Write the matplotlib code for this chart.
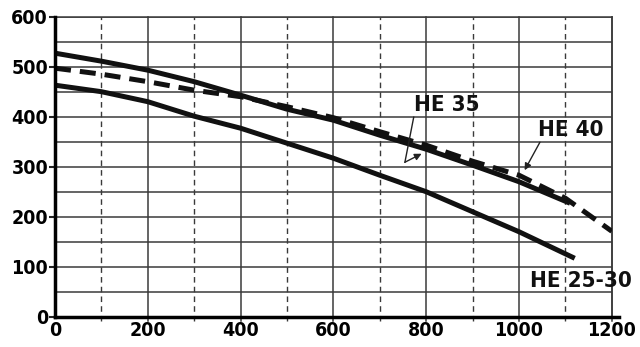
import matplotlib
matplotlib.use("Agg")
import matplotlib.pyplot as plt

plt.rcParams['font.family'] = ['DejaVu Sans']
plt.rcParams['font.stretch'] = 'condensed'
plt.rcParams['font.weight'] = 'bold'

# curve data
q35 = [0, 100, 200, 300, 400, 500, 600, 700, 800, 900, 1000, 1110]
he35 = [527, 511, 493, 470, 443, 415, 393, 363, 335, 303, 270, 227]

q40 = [0, 100, 200, 300, 400, 500, 600, 700, 800, 900, 1000, 1100, 1200]
he40 = [497, 485, 470, 453, 440, 420, 398, 370, 343, 311, 283, 237, 171]

q25 = [0, 100, 200, 300, 400, 500, 600, 700, 800, 900, 1000, 1120]
he25 = [463, 450, 430, 401, 377, 347, 317, 283, 250, 210, 170, 117]

x_ticks = [0, 200, 400, 600, 800, 1000, 1200]
y_ticks = [0, 100, 200, 300, 400, 500, 600]

fig = plt.figure(figsize=(6.4, 3.47), dpi=100)
ax = fig.add_axes([0.086, 0.087, 0.870, 0.865])

# grid
for y in range(50, 601, 50):
    ax.axhline(y, color="#3a3a3a", lw=1.1, zorder=1)
for x in range(100, 1201, 100):
    if x % 200 == 0:
        ax.plot([x, x], [-8, 600], color="#3a3a3a", lw=1.1, zorder=1, clip_on=False)
    else:
        ax.plot([x, x], [-8, 600], color="#3a3a3a", lw=1.0, ls=(0, (4, 3)), zorder=1, clip_on=False)

# curves
ax.plot(q35, he35, color="#111111", lw=3.6, solid_capstyle="butt", zorder=3)
ax.plot(q25, he25, color="#111111", lw=3.6, solid_capstyle="butt", zorder=3)
ax.plot(q40, he40, color="#111111", lw=3.6, ls=(0, (3.2, 1.8)), zorder=4)

# labels + arrows
ax.text(845, 423, "HE 35", fontsize=16, ha="center", va="center", color="#111111")
ax.text(1112, 373, "HE 40", fontsize=16, ha="center", va="center", color="#111111")
ax.text(1133, 71, "HE 25-30", fontsize=16, ha="center", va="center", color="#111111")

ax.plot([773, 754], [399, 309], color="#222222", lw=1.0, zorder=5)
ax.annotate("", xy=(790, 326), xytext=(754, 309),
            arrowprops=dict(arrowstyle="-|>", color="#222222", lw=1.0, mutation_scale=10,
                            shrinkA=0, shrinkB=0), zorder=5)
ax.annotate("", xy=(1012, 293), xytext=(1045, 349),
            arrowprops=dict(arrowstyle="-|>", color="#222222", lw=1.0, mutation_scale=10,
                            shrinkA=0, shrinkB=0), zorder=5)

ax.set_xlim(0, 1200)
ax.set_ylim(0, 600)
ax.set_xticks(x_ticks)
ax.set_yticks(y_ticks)
ax.tick_params(axis="both", labelsize=14, width=1.5, length=4, color="#222222", pad=1)
ax.tick_params(axis="x", length=0, pad=3)

for s in ["top", "right"]:
    ax.spines[s].set_linewidth(1.1)
    ax.spines[s].set_color("#3a3a3a")
ax.spines["left"].set_linewidth(2.5)
ax.spines["bottom"].set_linewidth(2.5)
ax.spines["bottom"].set_bounds(0, 1215)
ax.spines["bottom"].set_zorder(6)
ax.spines["left"].set_zorder(6)

fig.savefig("out.png", dpi=100)
